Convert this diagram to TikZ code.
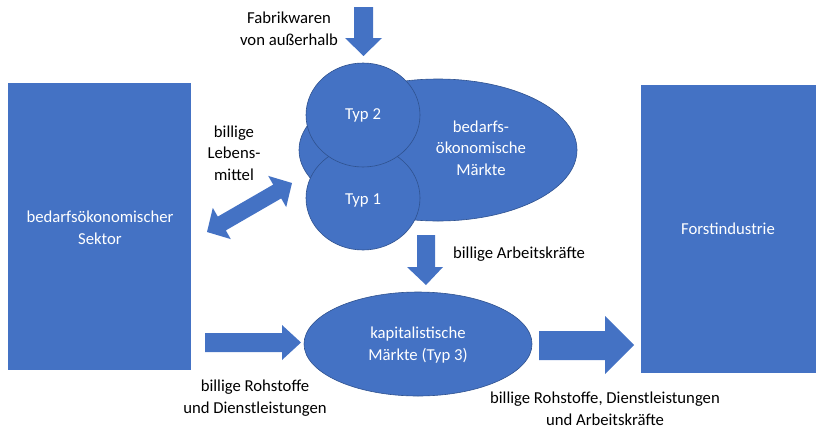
\documentclass[tikz,border=0pt]{standalone}
\usepackage{fontspec}
\setmainfont{Carlito}
\definecolor{obl}{HTML}{4472C4}
\definecolor{odk}{HTML}{2F528F}
\begin{document}
\begin{tikzpicture}[x=1pt,y=-1pt,
  lbl/.style={align=center,font=\fontsize{16.7}{21.5}\selectfont,inner sep=0pt},
  wlbl/.style={lbl,text=white},
  blk/.style={fill=obl},
  oval/.style={fill=obl,draw=odk,line width=0.6pt}]
\useasboundingbox (0,0) rectangle (818,429);
% rectangles
\fill[obl] (8,83) rectangle (191,370);
\node[wlbl] (sek) at (100,228) {bedarfsökonomischer\\Sektor};
\fill[obl] (641,85) rectangle (816,373);
\node[wlbl] (forst) at (728,229) {Forstindustrie};
% bedarfsoekonomische Maerkte
\draw[oval] (438,150) ellipse [x radius=139, y radius=71];
\draw[oval] (363,198) ellipse [x radius=57, y radius=52];
\draw[oval] (363,115) ellipse [x radius=57, y radius=52];
\node[wlbl] (typ2) at (363,115) {Typ 2};
\node[wlbl] (typ1) at (363,200) {Typ 1};
\node[wlbl] (bm) at (481,148) {bedarfs-\\ökonomische\\Märkte};
% kapitalistische Maerkte
\draw[oval] (418,344) ellipse [x radius=114, y radius=52];
\node[wlbl] (km) at (418,345) {kapitalistische\\Märkte (Typ 3)};
% arrows
\fill[blk] (354,7) -- (373,7) -- (373,38) -- (382,38) -- (363.5,56) -- (345,38) -- (354,38) -- cycle;
\node[lbl] (fab) at (289,29) {Fabrikwaren\\von außerhalb};
\fill[blk] (292,183) -- (286.2,207.1) -- (281.2,198.4) -- (225.8,230.4) -- (230.8,239.1) -- (207,232) -- (212.8,207.9) -- (217.8,216.6) -- (273.2,184.6) -- (268.2,175.9) -- cycle;
\node[lbl] (leb) at (234,153) {billige\\Lebens-\\mittel};
\fill[blk] (417,235) -- (435,235) -- (435,267) -- (443,267) -- (426,285) -- (407,267) -- (417,267) -- cycle;
\node[lbl] (arb) at (519,254) {billige Arbeitskräfte};
\fill[blk] (205,333) -- (282,333) -- (282,325) -- (301,342.5) -- (282,360) -- (282,352) -- (205,352) -- cycle;
\node[lbl] (roh) at (255,398) {billige Rohstoffe\\und Dienstleistungen};
\fill[blk] (539,331) -- (605,331) -- (605,316) -- (634,345) -- (605,374) -- (605,360) -- (539,360) -- cycle;
\node[lbl] (rda) at (605,409) {billige Rohstoffe, Dienstleistungen\\und Arbeitskräfte};
\end{tikzpicture}
\end{document}
